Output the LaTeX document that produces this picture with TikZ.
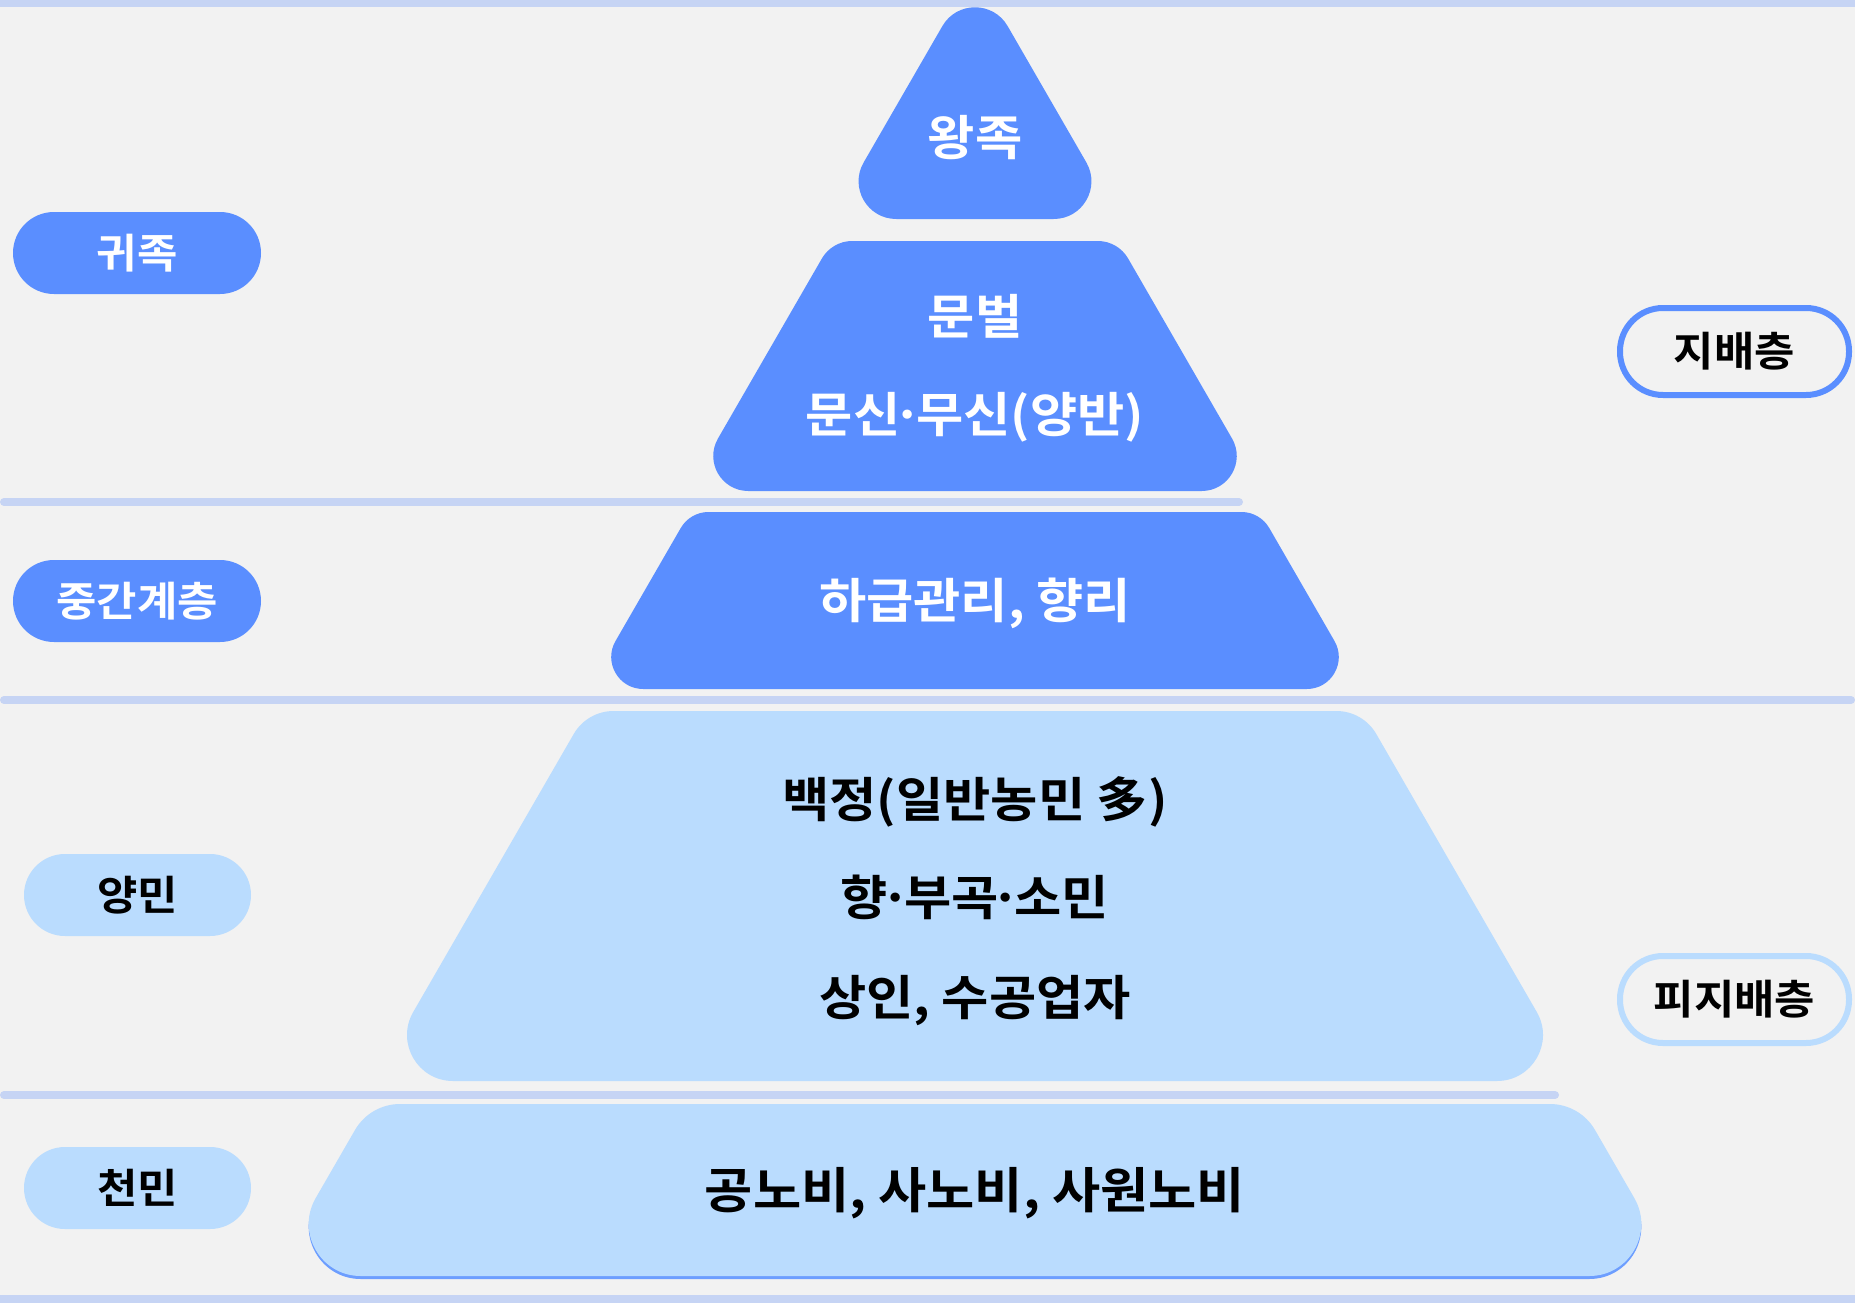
\documentclass[tikz,border=0pt]{standalone}
\usepackage{fontspec}
\newfontfamily\kr{Noto Sans CJK KR}[BoldFont={Noto Sans CJK KR Bold}, FakeStretch=1.07]
\newcommand\kdot{\kern-0.17em·\kern-0.13em}
\definecolor{bgc}{RGB}{242,242,242}
\definecolor{linec}{RGB}{198,212,244}
\definecolor{dblue}{RGB}{90,142,255}
\definecolor{lblue}{RGB}{186,220,254}
\newcommand\trapz[6]{%
  \pgfmathsetmacro\tzcx{#2}\pgfmathsetmacro\tzyt{#3}\pgfmathsetmacro\tzyb{#4}%
  \pgfmathsetmacro\tza{#5}\pgfmathsetmacro\tzb{#5+0.57735*(#4-#3)}%
  \pgfmathsetmacro\tzea{0.57735*#6}\pgfmathsetmacro\tzca{0.2201*#6}%
  \pgfmathsetmacro\tzeb{1.73205*#6}\pgfmathsetmacro\tzcb{0.9623*#6}%
  \fill[#1] ({\tzcx-\tza+\tzea},\tzyt) -- ({\tzcx+\tza-\tzea},\tzyt)
    .. controls ({\tzcx+\tza-\tzca},\tzyt) and ({\tzcx+\tza+0.5*\tzca},{\tzyt+0.866*\tzca}) .. ({\tzcx+\tza+0.5*\tzea},{\tzyt+0.866*\tzea})
    -- ({\tzcx+\tzb-0.5*\tzeb},{\tzyb-0.866*\tzeb})
    .. controls ({\tzcx+\tzb-0.5*\tzcb},{\tzyb-0.866*\tzcb}) and ({\tzcx+\tzb-\tzcb},\tzyb) .. ({\tzcx+\tzb-\tzeb},\tzyb)
    -- ({\tzcx-\tzb+\tzeb},\tzyb)
    .. controls ({\tzcx-\tzb+\tzcb},\tzyb) and ({\tzcx-\tzb+0.5*\tzcb},{\tzyb-0.866*\tzcb}) .. ({\tzcx-\tzb+0.5*\tzeb},{\tzyb-0.866*\tzeb})
    -- ({\tzcx-\tza-0.5*\tzea},{\tzyt+0.866*\tzea})
    .. controls ({\tzcx-\tza-0.5*\tzca},{\tzyt+0.866*\tzca}) and ({\tzcx-\tza+\tzca},\tzyt) .. ({\tzcx-\tza+\tzea},\tzyt) -- cycle;%
}
\newcommand\tritop[5]{%
  \pgfmathsetmacro\tzcx{#2}\pgfmathsetmacro\tzyb{#3}\pgfmathsetmacro\tzh{#4}%
  \pgfmathsetmacro\tzya{#3-1.73205*#4}%
  \pgfmathsetmacro\tzeb{1.73205*#5}\pgfmathsetmacro\tzcb{0.9623*#5}%
  \fill[#1] ({\tzcx+0.5*\tzeb},{\tzya+0.866*\tzeb}) -- ({\tzcx+\tzh-0.5*\tzeb},{\tzyb-0.866*\tzeb})
    .. controls ({\tzcx+\tzh-0.5*\tzcb},{\tzyb-0.866*\tzcb}) and ({\tzcx+\tzh-\tzcb},\tzyb) .. ({\tzcx+\tzh-\tzeb},\tzyb)
    -- ({\tzcx-\tzh+\tzeb},\tzyb)
    .. controls ({\tzcx-\tzh+\tzcb},\tzyb) and ({\tzcx-\tzh+0.5*\tzcb},{\tzyb-0.866*\tzcb}) .. ({\tzcx-\tzh+0.5*\tzeb},{\tzyb-0.866*\tzeb})
    -- ({\tzcx-0.5*\tzeb},{\tzya+0.866*\tzeb})
    .. controls ({\tzcx-0.5*\tzcb},{\tzya+0.866*\tzcb}) and ({\tzcx+0.5*\tzcb},{\tzya+0.866*\tzcb}) .. ({\tzcx+0.5*\tzeb},{\tzya+0.866*\tzeb}) -- cycle;%
}
\tikzset{
  sep/.style={line width=8pt, draw=linec, line cap=round},
  wtxt/.style={text=white, font=\kr\bfseries\fontsize{48pt}{48pt}\selectfont, anchor=base, inner sep=0pt},
  btxt/.style={text=black, font=\kr\bfseries\fontsize{48pt}{48pt}\selectfont, anchor=base, inner sep=0pt},
  pilld/.style={fill=dblue, text=white, rounded corners=41pt, minimum width=248pt, minimum height=82pt, inner sep=0pt, font=\kr\bfseries\fontsize{41pt}{41pt}\selectfont},
  pilll/.style={fill=lblue, text=black, rounded corners=41pt, minimum width=227pt, minimum height=82pt, inner sep=0pt, font=\kr\bfseries\fontsize{41pt}{41pt}\selectfont},
  pillo/.style={fill=bgc, draw=#1, line width=6pt, text=black, rounded corners=43pt, minimum width=229pt, minimum height=87pt, inner sep=0pt, font=\kr\bfseries\fontsize{41pt}{41pt}\selectfont}
}
\begin{document}
\begin{tikzpicture}[x=1pt,y=-1pt]
\useasboundingbox (0,0) rectangle (1855,1303);
\fill[bgc] (0,0) rectangle (1855,1303);
% separator lines
\draw[sep, line cap=butt] (0,3.5) -- (1855,3.5);
\draw[sep] (4,502) -- (1239,502);
\draw[sep] (4,700) -- (1851,700);
\draw[sep] (4,1095) -- (1555,1095);
\draw[sep, line cap=butt] (0,1299) -- (1855,1299);
% pyramid layers
\tritop{dblue}{975}{219}{144}{37.7}
\trapz{dblue}{975}{241}{491}{143}{35}
\trapz{dblue}{975}{512}{689}{285}{32}
\trapz{lblue}{975}{711}{1081}{388}{46}
\begin{scope}[yshift=-3pt]
\trapz{dblue!80!lblue}{975}{1104}{1276}{605}{52}
\end{scope}
\trapz{lblue}{975}{1104}{1276}{605}{52}
% texts
\node[wtxt] (wang) at (975,156) {왕족};
\node[wtxt] (munbeol) at (975,334) {문벌};
\node[wtxt] (munsin) at (975,432) {문신\kdot 무신(양반)};
\node[wtxt] (hageup) at (975,618) {하급관리, 향리};
\node[btxt] (baekjeong) at (975,817) {백정(일반농민 多)};
\node[btxt] (hyang) at (975,915) {향\kdot 부곡\kdot 소민};
\node[btxt] (sangin) at (975,1015) {상인, 수공업자};
\node[btxt, font=\kr\bfseries\fontsize{49pt}{49pt}\selectfont] (nobi) at (975,1208) {공노비, 사노비, 사원노비};
% left labels
\node[pilld] (gwijok) at (137,253) {귀족};
\node[pilld] (junggan) at (137,601) {중간계층};
\node[pilll] (yangmin) at (137.5,895) {양민};
\node[pilll] (cheonmin) at (137.5,1188) {천민};
% right labels
\node[pillo=dblue] (jibae) at (1734.5,351.5) {지배층};
\node[pillo=lblue] (pijibae) at (1734.5,999.5) {피지배층};
\end{tikzpicture}
\end{document}
